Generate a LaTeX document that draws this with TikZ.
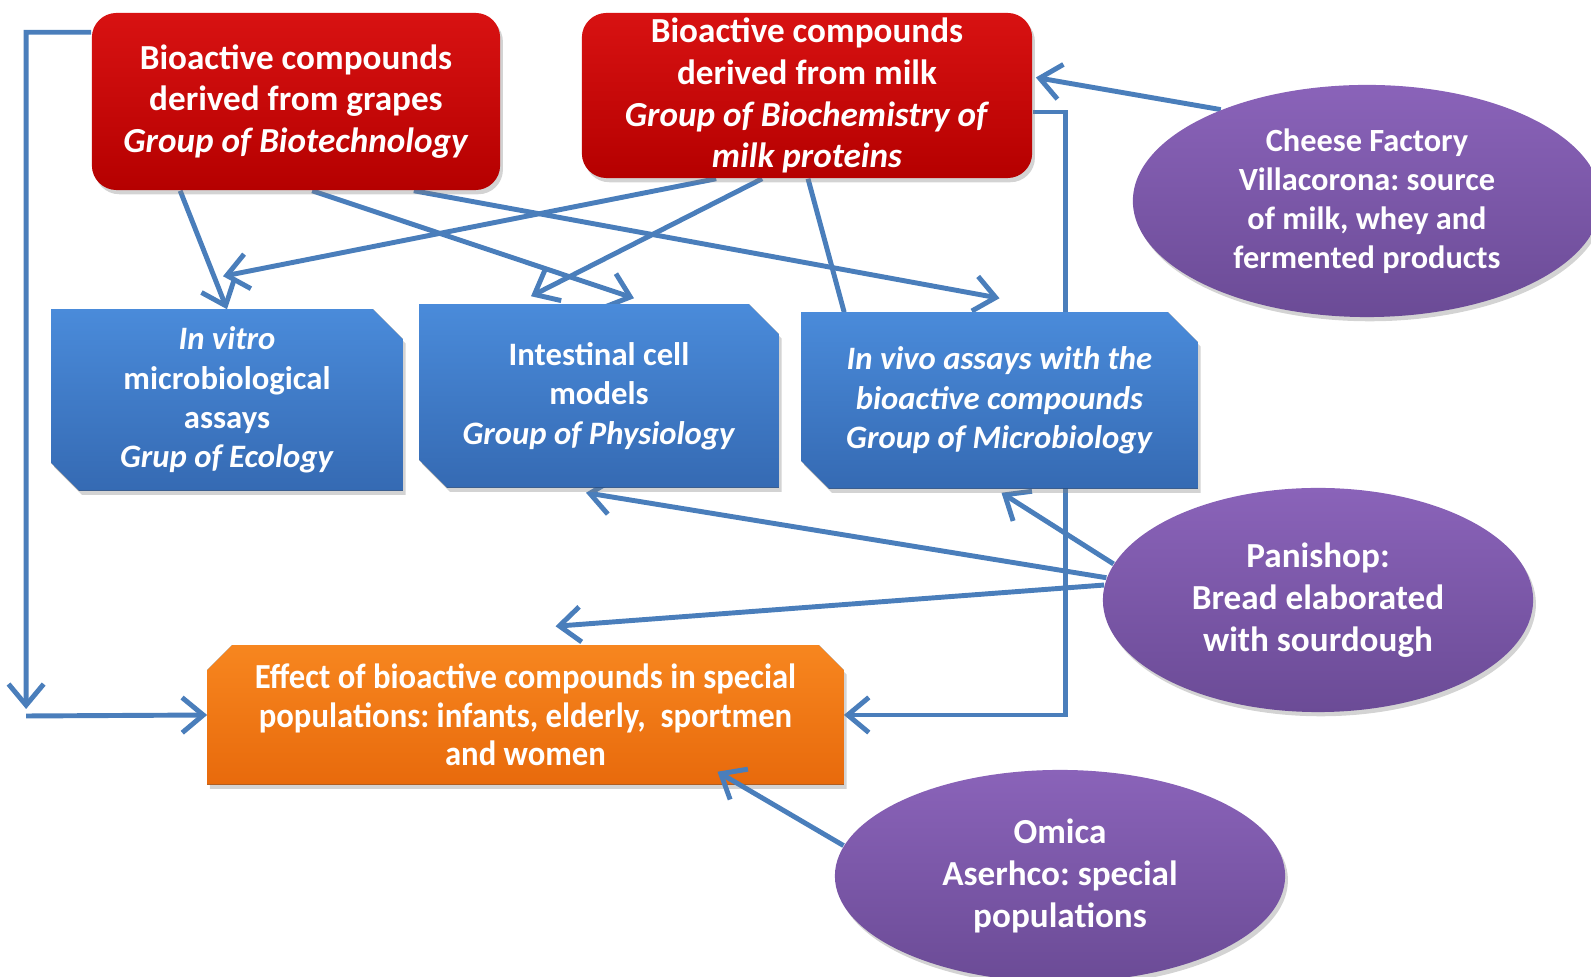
\documentclass[tikz,border=0pt]{standalone}
\usepackage{fontspec}
\setmainfont{Carlito}
\frenchspacing
\usetikzlibrary{arrows.meta,calc,positioning,shadows,shapes.geometric}

\definecolor{LinkBlue}{HTML}{4A7EBB}
\definecolor{RedTop}{HTML}{D81212}
\definecolor{RedBot}{HTML}{B50000}
\definecolor{BlueTop}{HTML}{4A8BDA}
\definecolor{BlueBot}{HTML}{356AB3}
\definecolor{OrangeTop}{HTML}{F7861F}
\definecolor{OrangeBot}{HTML}{E86A0C}
\definecolor{PurpleTop}{HTML}{8A63B9}
\definecolor{PurpleBot}{HTML}{6B4B96}

\pgfdeclarelayer{links}
\pgfdeclarelayer{boxes}
\pgfsetlayers{links,boxes,main}

\begin{document}
\begin{tikzpicture}
      [
        x=0.01cm, y=-0.01cm,
        every node/.style={text=white, align=center, inner sep=0pt,
          font=\bfseries\fontsize{10}{11.9}\selectfont},
        Shade/.style={drop shadow={opacity=0.35, shadow xshift=0.8pt, shadow yshift=-1.2pt}},
        SourceBox/.style={Shade, rounded corners=7pt, top color=RedTop, bottom color=RedBot},
        AssayBox/.style={rectangle, font=\bfseries\fontsize{9.3}{11.2}\selectfont},
        AssayFill/.style={Shade, top color=BlueTop, bottom color=BlueBot},
        EffectBox/.style={rectangle, font=\bfseries\fontsize{10}{11}\selectfont\addfontfeatures{FakeStretch=0.93}},
        EffectFill/.style={Shade, top color=OrangeTop, bottom color=OrangeBot},
        Partner/.style={Shade, ellipse, top color=PurpleTop, bottom color=PurpleBot,
          font=\bfseries\fontsize{10}{12}\selectfont},
        Link/.style={draw=LinkBlue, line width=1.4pt, -{Straight Barb[length=6pt,width=10pt]}},
      ]
      \useasboundingbox (0,0) rectangle (1591,977);

      % research groups
      \node [SourceBox, minimum width=4.08cm, minimum height=1.77cm] (grapes) at (296,101.5)
        {Bioactive compounds\\derived from grapes\\\textit{Group of Biotechnology}};
      \node [SourceBox, minimum width=4.5cm, minimum height=1.65cm] (milk) at (807,95.5)
        {Bioactive compounds\\derived from milk\\\textit{Group of Biochemistry of}\\\textit{milk proteins}};

      \node [AssayBox, minimum width=3.5cm, minimum height=1.8cm] (vitro) at (227,400)
        {\textit{In vitro}\\microbiological\\assays\\\textit{Grup of Ecology}};
      \node [AssayBox, minimum width=3.58cm, minimum height=1.82cm] (cells) at (599,396)
        {Intestinal cell\\models\\\textit{Group of Physiology}};
      \node [AssayBox, minimum width=3.95cm, minimum height=1.75cm] (vivo) at (999.5,400.5)
        {\textit{In vivo assays with the}\\\textit{bioactive compounds}\\\textit{Group of Microbiology}};

      \node [EffectBox, minimum width=6.35cm, minimum height=1.38cm] (effect) at (525.5,715)
        {Effect of bioactive compounds in special\\populations: infants, elderly,~ sportmen\\and women};

      % companies
      \node [Partner, minimum width=4.68cm, minimum height=2.32cm,
             font=\bfseries\fontsize{9.2}{11.1}\selectfont] (cheese) at (1367,201)
        {Cheese Factory\\Villacorona: source\\of milk, whey and\\fermented products};
      \node [Partner, minimum width=4.3cm, minimum height=2.24cm] (panishop) at (1318,600)
        {Panishop:\\Bread elaborated\\with sourdough};
      \node [Partner, minimum width=4.5cm, minimum height=2.12cm] (omica) at (1060,876)
        {Omica\\Aserhco: special\\populations};

      \begin{pgfonlayer}{boxes}
        \foreach \n in {vitro,cells,vivo}
          \fill [AssayFill] (\n.north west) -- ($(\n.north east)+(-30,0)$) -- ($(\n.north east)+(0,30)$)
            -- (\n.south east) -- ($(\n.south west)+(28,0)$) -- ($(\n.south west)+(0,-28)$) -- cycle;
        \fill [EffectFill] (effect.south west) -- ($(effect.north west)+(0,25)$) -- ($(effect.north west)+(25,0)$)
          -- ($(effect.north east)+(-25,0)$) -- ($(effect.north east)+(0,25)$) -- (effect.south east) -- cycle;
      \end{pgfonlayer}

      \begin{pgfonlayer}{links}
        \draw [Link] ($(grapes.south west)+(89,0)$) -- (vitro.north);
        \draw [Link] ($(grapes.south west)+(221,0)$) -- ($(cells.north)+(35,-6)$);
        \draw [Link] ($(grapes.south east)+(-87,0)$) -- ($(vivo.north)+(0,-14)$);
        \draw [Link] ($(milk.south west)+(135,0)$) -- ($(vitro.north)+(-4,-33)$);
        \draw [Link] ($(milk.south west)+(181,0)$) -- ($(cells.north)+(-68,-8)$);
        \draw [Link, -] ($(milk.south)+(1,0)$) -- ($(vivo.north west)+(43,0)$);
        \draw [Link] (cheese.148) -- ($(milk.east)+(3,-18)$);

        \draw [Link] ($(milk.east)+(0,16.5)$) -| ($(effect.east)+(222,0)$) -- (effect.east);
        \draw [Link] ($(grapes.north west)+(0,20)$) -- ++(-65,0) -- ($(effect.west)+(-181,-6)$);
        \draw [Link] ($(effect.west)+(-181,1)$) -- (effect.west);

        \draw [Link] (panishop.170) -- ($(vivo.south)+(2,4)$);
        \draw [Link] (panishop.174) -- ($(cells.south)+(-13,5)$);
        \draw [Link] (panishop.176) -- ($(effect.north)+(30,-19)$);
      \end{pgfonlayer}

      \draw [Link] (omica.172) -- ($(effect.south)+(192,-13)$);
    \end{tikzpicture}
\end{document}
